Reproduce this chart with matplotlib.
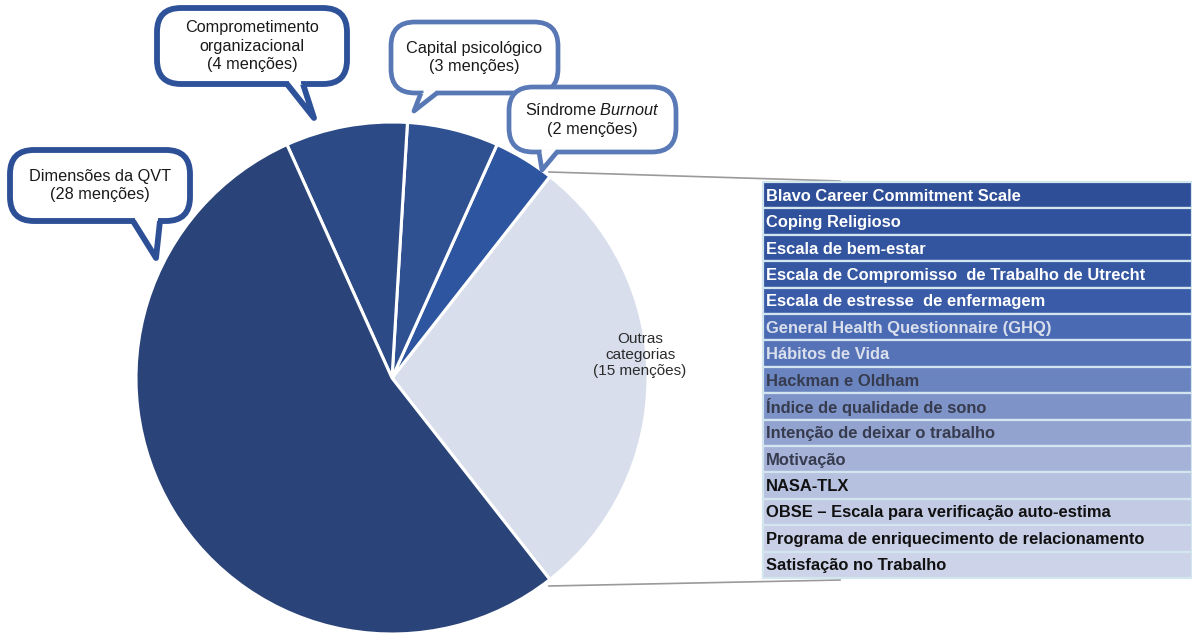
import matplotlib.pyplot as plt
from matplotlib.patches import FancyBboxPatch, Polygon

plt.rcParams['font.family'] = ['Liberation Sans', 'DejaVu Sans']
plt.rcParams['mathtext.fontset'] = 'custom'
plt.rcParams['mathtext.rm'] = 'Liberation Sans'
plt.rcParams['mathtext.it'] = 'Liberation Sans:italic'

# slices, in drawing order (starting at the right, going up)
slice_names = ['Outras\ncategorias', 'Síndrome $\\it{Burnout}$', 'Capital psicológico',
               'Comprometimento\norganizacional', 'Dimensões da QVT']
mentions = [15, 2, 3, 4, 28]

outras_items = [
    'Blavo Career Commitment Scale',
    'Coping Religioso',
    'Escala de bem-estar',
    'Escala de Compromisso  de Trabalho de Utrecht',
    'Escala de estresse  de enfermagem',
    'General Health Questionnaire (GHQ)',
    'Hábitos de Vida',
    'Hackman e Oldham',
    'Índice de qualidade de sono',
    'Intenção de deixar o trabalho',
    'Motivação',
    'NASA-TLX',
    'OBSE – Escala para verificação auto-estima',
    'Programa de enriquecimento de relacionamento',
    'Satisfação no Trabalho',
]

slice_colors = ['#D9DEED', '#2E55A0', '#2F5192', '#2C4A86', '#2A4479']
row_colors = ['#2E4E97', '#30519B', '#33549F', '#3658A3', '#3A5CA8', '#4A6BB4', '#5673B8',
              '#6A84C0', '#7E93C8', '#93A3D0', '#A6B2D8', '#B6C0DF', '#C2CAE4', '#C8CFE7',
              '#CDD3E9']
text_colors = ['white'] * 5 + ['#DADFEC'] * 2 + ['#363B4E'] * 4 + ['#111111'] * 4

fig = plt.figure(figsize=(11.92, 6.4), dpi=100)
ax = fig.add_axes([0, 0, 1, 1])

cx, cy, r = 392, 378, 256
start = 180 * mentions[0] / sum(mentions)
ax.pie(mentions, colors=slice_colors, center=(cx, cy), radius=r,
       startangle=start, counterclock=False,
       wedgeprops=dict(edgecolor='white', linewidth=2.2))
ax.set_xlim(0, 1192)
ax.set_ylim(640, 0)
ax.axis('off')

ax.text(640, 355, slice_names[0] + '\n(%d menções)' % mentions[0], ha='center', va='center',
        fontsize=11, color='#2b2b2b', linespacing=1.15)

# lines from the slice to the table
ax.plot([549, 840], [172, 181], color='#9a9a9a', lw=1.2, zorder=2)
ax.plot([549, 840], [586, 580], color='#9a9a9a', lw=1.2, zorder=2)

# table of other categories
top, left, row_h = 182, 763, 26.4
ys = [top + row_h * (i + 0.5) for i in range(len(outras_items))]
ax.barh(ys, 1192 - left, left=left, height=row_h, color=row_colors,
        edgecolor='#D3E6F0', linewidth=1.6, zorder=3)
for y, name, c in zip(ys, outras_items, text_colors):
    ax.text(left + 3, y + 1, name, ha='left', va='center', fontsize=11.9,
            fontweight='bold', color=c, zorder=4)


def bubble(box, tail, text, color, lw, fs=11.7):
    x0, y0, x1, y1 = box
    ax.add_patch(FancyBboxPatch((x0, y0), x1 - x0, y1 - y0,
                                boxstyle='round,pad=0,rounding_size=24',
                                fc='white', ec=color, lw=lw, zorder=5))
    (bl, br, tx, ty) = tail
    ax.plot([bl + 2, br - 2], [y1, y1], color='white', lw=lw + 1.5, zorder=6,
            solid_capstyle='butt')
    ax.add_patch(Polygon([(bl, y1), (tx, ty), (br, y1)], closed=False,
                         fc='white', ec=color, lw=lw, zorder=7, joinstyle='round'))
    ax.text((x0 + x1) / 2, (y0 + y1) / 2, text, ha='center', va='center',
            fontsize=fs, color='#1a1a1a', linespacing=1.3, zorder=8)


bubble((10, 150, 190, 221), (133, 160, 156, 258),
       slice_names[4] + '\n(%d menções)' % mentions[4], '#2C4F96', 4.2)
bubble((157, 8, 347, 84), (287, 303, 314, 118),
       slice_names[3] + '\n(%d menções)' % mentions[3], '#2E5299', 4.2)
bubble((391, 22, 558, 93), (421, 437, 414, 111),
       slice_names[2] + '\n(%d menções)' % mentions[2], '#5878B5', 3.4)
bubble((509, 87, 676, 152), (539, 557, 542, 170),
       slice_names[1] + '\n(%d menções)' % mentions[1], '#5A7AB7', 3.4)

fig.savefig('out.png', dpi=100)
